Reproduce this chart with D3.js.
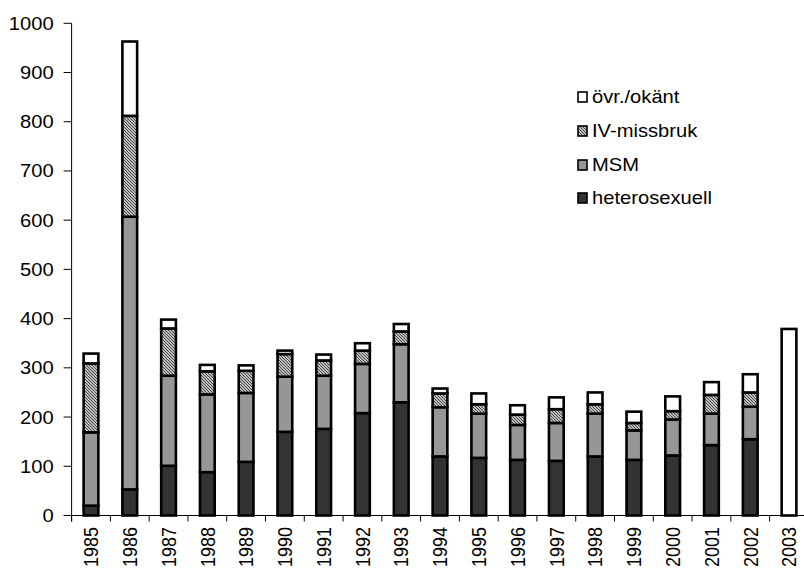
<!DOCTYPE html>
<html>
<head>
<meta charset="utf-8">
<script src="https://cdn.jsdelivr.net/npm/d3@7"></script>
<style>
  html, body { margin: 0; padding: 0; background: #fff; }
  svg { display: block; }
  text { font-family: Arial, "Liberation Sans", sans-serif; fill: #000; }
</style>
</head>
<body>
<svg id="chart" width="804" height="576"></svg>
<script>
// Reported cases per year, split by route of transmission
const years = ["1985","1986","1987","1988","1989","1990","1991","1992","1993","1994",
               "1995","1996","1997","1998","1999","2000","2001","2002","2003"];
const heterosexuell = [20, 53, 101, 88, 109, 170, 176, 208, 230, 120, 117, 113, 111, 120, 113, 122, 143, 155, 0];
const msm           = [149, 554, 183, 158, 140, 112, 108, 100, 118, 100, 90, 71, 77, 87, 60, 73, 64, 66, 0];
const ivMissbruk    = [140, 205, 96, 47, 45, 46, 31, 27, 26, 28, 19, 21, 28, 19, 15, 17, 38, 29, 0];
const ovrOkant      = [20, 151, 18, 13, 11, 7, 12, 15, 15, 10, 22, 19, 24, 24, 23, 30, 26, 37, 379];
const yTicks = [0, 100, 200, 300, 400, 500, 600, 700, 800, 900, 1000];

const seriesKeys   = ["heterosexuell", "MSM", "IV-missbruk", "övr./okänt"];
const seriesValues = [heterosexuell, msm, ivMissbruk, ovrOkant];
const seriesFill   = ["#333333", "#969696", "url(#hatch)", "#ffffff"];

const svg = d3.select("#chart");
const TX = 1.12; // horizontal stretch of the lettering

// Fine diagonal hatch for the IV series
const defs = svg.append("defs");
const pat = defs.append("pattern")
  .attr("id", "hatch").attr("patternUnits", "userSpaceOnUse")
  .attr("width", 3).attr("height", 3);
pat.append("rect").attr("width", 3).attr("height", 3).attr("fill", "#f4f4f4");
pat.append("path")
  .attr("d", "M0,0 L3,3 M-1,2 L1,4 M2,-1 L4,1")
  .attr("stroke", "#3c3c3c").attr("stroke-width", 1.1);

const x0 = 71.6, x1 = 808.4, yTop = 23.3, yBase = 515.5;

const x = d3.scaleBand().domain(years).range([x0, x1])
  .paddingInner(0.62).paddingOuter(0.31);
const y = d3.scaleLinear().domain([0, 1000]).range([yBase, yTop]);

// Stack table built from the series arrays
const table = years.map((yr, i) => {
  const row = { year: yr };
  seriesKeys.forEach((k, j) => { row[k] = seriesValues[j][i]; });
  return row;
});
const stacked = d3.stack().keys(seriesKeys)(table);

// Bars
stacked.forEach((layer, j) => {
  svg.append("g")
    .selectAll("rect")
    .data(layer.filter(d => d[1] - d[0] > 0))
    .join("rect")
    .attr("x", d => x(d.data.year))
    .attr("width", x.bandwidth())
    .attr("y", d => y(d[1]))
    .attr("height", d => y(d[0]) - y(d[1]))
    .attr("fill", seriesFill[j])
    .attr("stroke", "#000")
    .attr("stroke-width", 2.6);
});

// Y axis
const yAxis = svg.append("g");
yAxis.append("line")
  .attr("x1", x0).attr("x2", x0)
  .attr("y1", y(1000)).attr("y2", yBase + 6)
  .attr("stroke", "#000").attr("stroke-width", 1);
yAxis.selectAll("line.tick").data(yTicks).join("line")
  .attr("class", "tick")
  .attr("x1", x0 - 8).attr("x2", x0)
  .attr("y1", d => y(d)).attr("y2", d => y(d))
  .attr("stroke", "#000").attr("stroke-width", 1);
yAxis.selectAll("text").data(yTicks).join("text")
  .attr("transform", d => `translate(${x0 - 18},${y(d)}) scale(${TX},1)`)
  .attr("text-anchor", "end")
  .attr("dy", "0.36em")
  .style("font-size", "18px")
  .text(d => d);

// X axis
const step = x.step();
const edges = years.map(yr => x(yr) + x.bandwidth() / 2 - step / 2);
edges.push(x1);
const xAxis = svg.append("g");
xAxis.append("line")
  .attr("x1", x0).attr("x2", x1)
  .attr("y1", yBase).attr("y2", yBase)
  .attr("stroke", "#000").attr("stroke-width", 1);
xAxis.selectAll("line.tick").data(edges).join("line")
  .attr("class", "tick")
  .attr("x1", d => d).attr("x2", d => d)
  .attr("y1", yBase).attr("y2", yBase + 6)
  .attr("stroke", "#000").attr("stroke-width", 1);
xAxis.selectAll("text").data(years).join("text")
  .attr("transform", d => `translate(${x(d) + x.bandwidth() / 2},527) scale(${TX},1) rotate(-90)`)
  .attr("text-anchor", "end")
  .attr("dy", "0.36em")
  .style("font-size", "18px")
  .text(d => d);

// Legend, top entry is the top of the stack
const legendOrder = [3, 2, 1, 0];
const legendY = [97, 131, 165, 198];
const legend = svg.append("g");
legendOrder.forEach((j, r) => {
  legend.append("rect")
    .attr("x", 578).attr("y", legendY[r] - 5)
    .attr("width", 9).attr("height", 10)
    .attr("fill", seriesFill[j])
    .attr("stroke", "#000").attr("stroke-width", 1.6);
  legend.append("text")
    .attr("transform", `translate(592,${legendY[r]}) scale(${TX},1)`)
    .attr("dy", "0.36em")
    .style("font-size", "18px")
    .text(seriesKeys[j]);
});
</script>
</body>
</html>
